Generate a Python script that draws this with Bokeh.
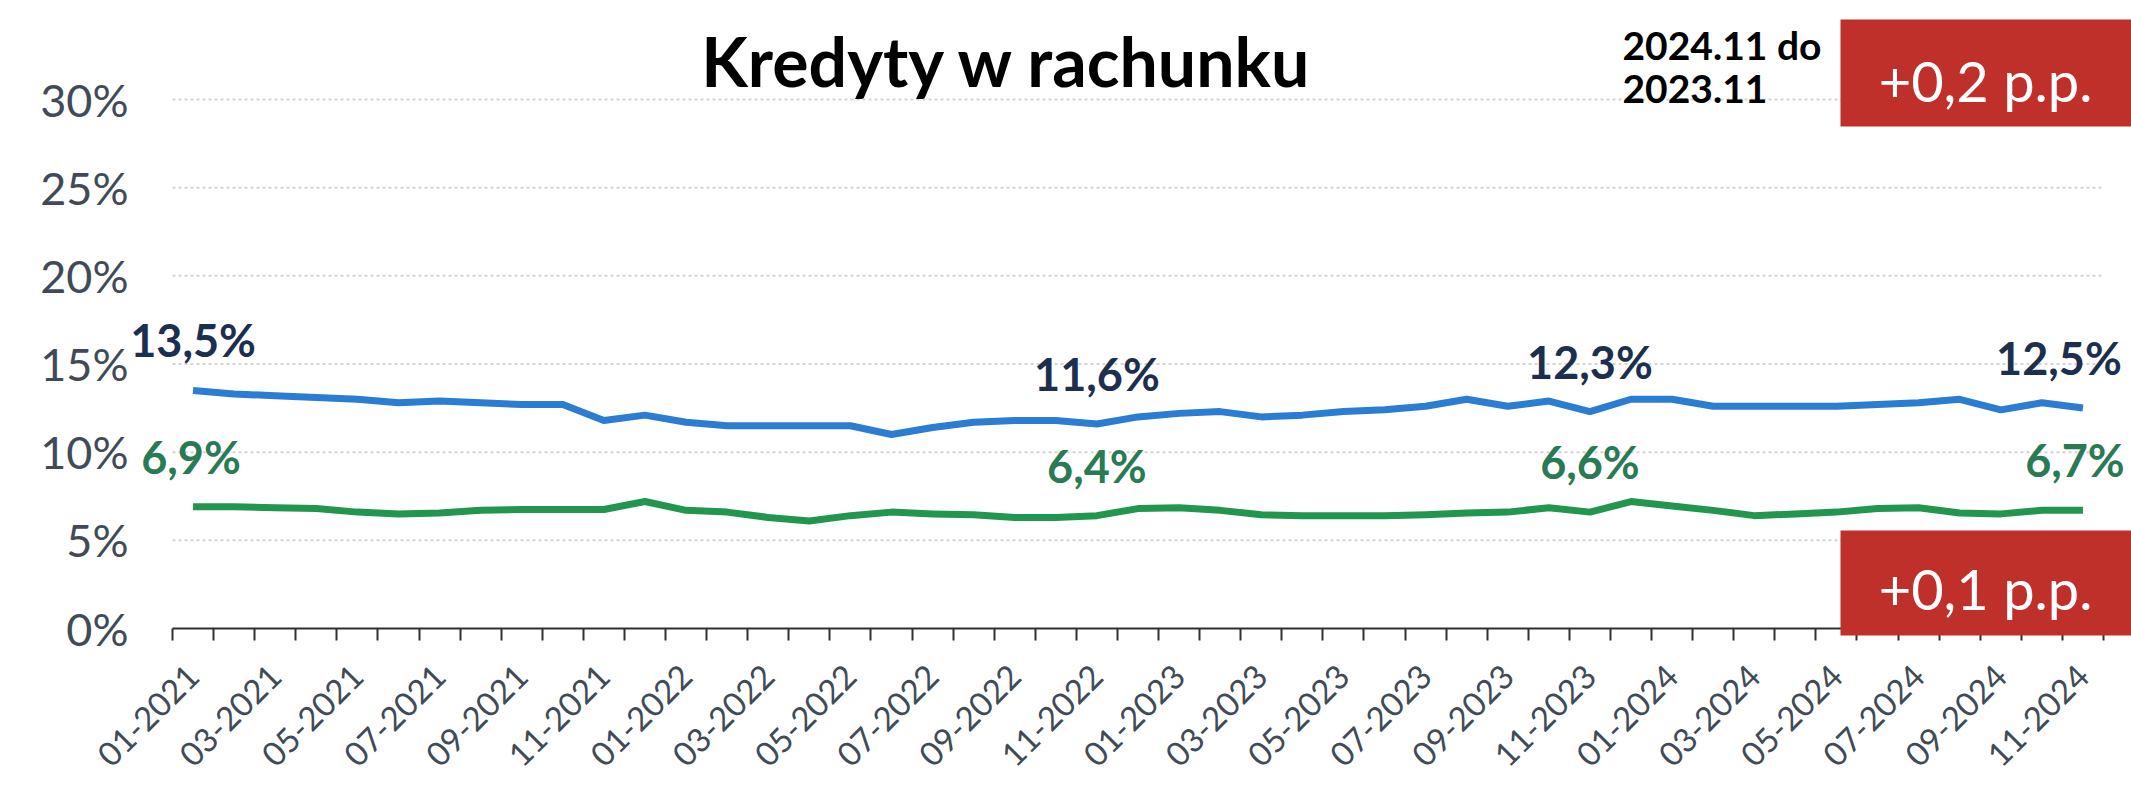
import math
from bokeh.plotting import figure
from bokeh.models import (Range1d, FixedTicker, PrintfTickFormatter, ColumnDataSource,
                          LabelSet, Label, BoxAnnotation)
from bokeh.core.properties import value
from bokeh.embed import file_html
from bokeh.resources import INLINE

# ---------------- data ----------------
months = [f"{m:02d}-{y}" for y in (2021, 2022, 2023, 2024) for m in range(1, 13)][:47]

blue_series = [13.5, 13.3, 13.2, 13.1, 13.0, 12.8, 12.9, 12.8, 12.7, 12.7,
               11.8, 12.1, 11.7, 11.5, 11.5, 11.5, 11.5, 11.0, 11.4, 11.7,
               11.8, 11.8, 11.6, 12.0, 12.2, 12.3, 12.0, 12.1, 12.3, 12.4,
               12.6, 13.0, 12.6, 12.9, 12.3, 13.0, 13.0, 12.6, 12.6, 12.6,
               12.6, 12.7, 12.8, 13.0, 12.4, 12.8, 12.5]

green_series = [6.9, 6.9, 6.85, 6.8, 6.6, 6.5, 6.55, 6.7, 6.75, 6.75,
                6.75, 7.2, 6.7, 6.6, 6.3, 6.1, 6.4, 6.6, 6.5, 6.45,
                6.3, 6.3, 6.4, 6.8, 6.85, 6.7, 6.45, 6.4, 6.4, 6.4,
                6.45, 6.55, 6.6, 6.85, 6.6, 7.2, 6.95, 6.7, 6.4, 6.5,
                6.6, 6.8, 6.85, 6.55, 6.5, 6.7, 6.7]

label_idx = [0, 22, 34, 46]
y_ticks = [0, 5, 10, 15, 20, 25, 30]

title_text = "Kredyty w rachunku"
period_lines = ["2024.11 do", "2023.11"]
delta_blue = "+0,2 p.p."
delta_green = "+0,1 p.p."

# ---------------- styles / layout ----------------
FONT = "Lato"
BLUE = "#2b7cd3"
GREEN = "#22964f"
BLUE_LBL = "#1c2f4f"
GREEN_LBL = "#2a7a55"
AXIS_TXT = "#404b57"
RED = "#c0302a"

W, H = 2131, 790
n = len(months)
y_max = y_ticks[-1]
# plot area in pixels: left, right, top, bottom
PL, PR, PT, PB = 172, 2103, 99, 628
sx = (PR - PL) / n
sy = (PB - PT) / y_max

def fx(px):
    return (px - PL) / sx

def fy(py):
    return (PB - py) / sy

xs = [i + 0.5 for i in range(n)]

p = figure(width=W, height=H,
           x_range=Range1d(fx(0), fx(W)), y_range=Range1d(fy(H), fy(0)),
           output_backend="svg", toolbar_location=None,
           min_border_left=0, min_border_right=0,
           min_border_top=0, min_border_bottom=0)
p.outline_line_color = None
p.background_fill_color = "white"
p.border_fill_color = "white"
p.xgrid.visible = False
p.ygrid.visible = False

# gridlines (dashed) across the plot area
p.segment(x0=[0] * (len(y_ticks) - 1), x1=[n] * (len(y_ticks) - 1),
          y0=y_ticks[1:], y1=y_ticks[1:],
          line_color="#d4d4d4", line_width=2, line_dash="3 3")

# y axis
p.yaxis.fixed_location = 0
p.yaxis.bounds = (0, y_max)
p.yaxis.ticker = FixedTicker(ticks=y_ticks)
p.yaxis.formatter = PrintfTickFormatter(format="%d%%")
p.yaxis.axis_line_color = None
p.yaxis.major_tick_line_color = None
p.yaxis.minor_tick_line_color = None
p.yaxis.major_tick_out = 0
p.yaxis.major_tick_in = 0
p.yaxis.major_label_standoff = 44
p.yaxis.major_label_text_font = FONT
p.yaxis.major_label_text_font_size = "45px"
p.yaxis.major_label_text_color = AXIS_TXT

# x axis
label_pos = [xs[i] for i in range(0, n, 2)]
p.xaxis.fixed_location = 0
p.xaxis.bounds = (0, n)
p.xaxis.ticker = FixedTicker(ticks=label_pos, minor_ticks=list(range(n + 1)))
p.xaxis.major_label_overrides = {xs[i]: months[i] for i in range(0, n, 2)}
p.xaxis.major_label_orientation = math.pi / 4
p.xaxis.axis_line_color = "#303030"
p.xaxis.axis_line_width = 2
p.xaxis.major_tick_line_color = None
p.xaxis.major_tick_out = 0
p.xaxis.major_tick_in = 0
p.xaxis.minor_tick_line_color = "#303030"
p.xaxis.minor_tick_line_width = 2
p.xaxis.minor_tick_out = 12
p.xaxis.minor_tick_in = 0
p.xaxis.major_label_standoff = 30
p.xaxis.major_label_text_font = FONT
p.xaxis.major_label_text_font_size = "33px"
p.xaxis.major_label_text_color = AXIS_TXT

# lines
p.line(xs, blue_series, line_color=BLUE, line_width=7, line_join="round")
p.line(xs, green_series, line_color=GREEN, line_width=7, line_join="round")

# data labels
def fmt(v):
    return f"{v:.1f}".replace(".", ",") + "%"

lbl_src = ColumnDataSource(dict(
    x=[xs[i] for i in label_idx] * 2,
    y=[blue_series[i] for i in label_idx] + [green_series[i] for i in label_idx],
    text=[fmt(blue_series[i]) for i in label_idx] + [fmt(green_series[i]) for i in label_idx],
    color=[BLUE_LBL] * len(label_idx) + [GREEN_LBL] * len(label_idx),
    dx=[0, 0, 0, -24, -2, 0, 0, -8],
))
p.add_layout(LabelSet(x="x", y="y", text="text", source=lbl_src,
                      x_offset="dx", y_offset=50,
                      text_color="color", text_font=value(FONT),
                      text_font_style="bold", text_font_size="45px",
                      text_align="center", text_baseline="middle"))

# title
p.add_layout(Label(x=fx(1007), y=fy(60),
                   text=title_text, text_font=FONT, text_font_style="bold",
                   text_font_size="68px", text_color="black",
                   text_align="center", text_baseline="middle"))

# period text
for txt, py in zip(period_lines, [44, 88]):
    p.add_layout(Label(x=fx(1622), y=fy(py),
                       text=txt, text_font=FONT, text_font_style="bold",
                       text_font_size="39px", text_color="black",
                       text_align="left", text_baseline="middle"))

# red boxes with change values
for top, bottom, txt, mid in [(19, 126, delta_blue, 80), (530, 635, delta_green, 588)]:
    p.add_layout(BoxAnnotation(left=fx(1840), right=fx(W), top=fy(top), bottom=fy(bottom),
                               fill_color=RED, fill_alpha=1.0, line_color=None))
    p.add_layout(Label(x=fx(1985), y=fy(mid),
                       text=txt, text_font=FONT, text_font_size="56px",
                       text_color="white", text_align="center",
                       text_baseline="middle"))

open("out.html", "w").write(file_html(p, INLINE))
